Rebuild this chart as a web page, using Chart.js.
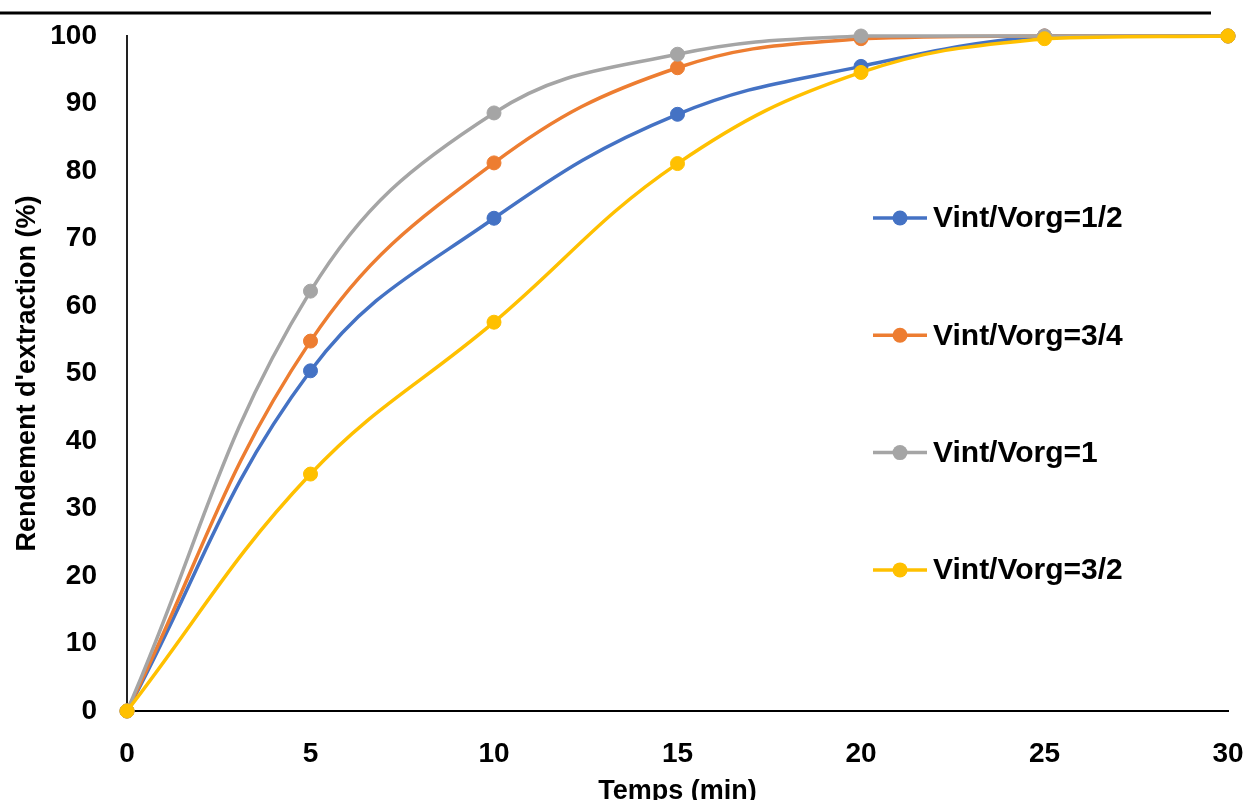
<!DOCTYPE html>
<html>
<head>
<meta charset="utf-8">
<script src="https://cdn.jsdelivr.net/npm/chart.js@4"></script>
<style>
  html, body { margin: 0; padding: 0; background: #fff; }
  canvas { display: block; }
</style>
</head>
<body>
<canvas id="chart" width="1247" height="800"></canvas>
<script>
// ── DATA ──────────────────────────────────────────────────────────────────
const timeValues = [0, 5, 10, 15, 20, 25, 30];
const seriesNames = ['Vint/Vorg=1/2', 'Vint/Vorg=3/4', 'Vint/Vorg=1', 'Vint/Vorg=3/2'];
const ratioHalf = [0, 50.4, 73.0, 88.4, 95.5, 100, 100];
const ratioThreeQuarter = [0, 54.8, 81.2, 95.3, 99.6, 100, 100];
const ratioOne = [0, 62.2, 88.6, 97.3, 100, 100, 100];
const ratioThreeHalf = [0, 35.1, 57.6, 81.1, 94.6, 99.6, 100];
const xTicks = [0, 5, 10, 15, 20, 25, 30];
const yTicks = [0, 10, 20, 30, 40, 50, 60, 70, 80, 90, 100];

const colors = ['#4472C4', '#ED7D31', '#A5A5A5', '#FFC000'];
const FONT = "'Liberation Sans', Arial, sans-serif";

function toPoints(values) {
  return values.map((v, i) => ({ x: timeValues[i], y: v }));
}

function makeDataset(label, values, color, order) {
  return {
    label,
    data: toPoints(values),
    borderColor: color,
    backgroundColor: color,
    pointBackgroundColor: color,
    pointBorderColor: color,
    borderWidth: 3.5,
    pointRadius: 7,
    pointBorderWidth: 1,
    tension: 0.4,
    fill: false,
    clip: false,
    order
  };
}

// frame line across the top (cropped chart border)
const topLine = {
  id: 'topLine',
  beforeDraw(chart) {
    const ctx = chart.ctx;
    ctx.save();
    ctx.strokeStyle = '#000';
    ctx.lineWidth = 3;
    ctx.beginPath();
    ctx.moveTo(0, 13);
    ctx.lineTo(1211, 13);
    ctx.stroke();
    ctx.restore();
  }
};

// legend sitting inside the plot, spaced like the original
const insideLegend = {
  id: 'insideLegend',
  afterDatasetsDraw(chart) {
    const ctx = chart.ctx;
    const x0 = 873, x1 = 927, textX = 933;
    const top = 218, step = 117.3;
    ctx.save();
    seriesNames.forEach((name, i) => {
      const y = top + i * step;
      ctx.strokeStyle = colors[i];
      ctx.lineWidth = 3.5;
      ctx.beginPath();
      ctx.moveTo(x0, y);
      ctx.lineTo(x1, y);
      ctx.stroke();
      ctx.fillStyle = colors[i];
      ctx.beginPath();
      ctx.arc((x0 + x1) / 2, y, 7.5, 0, Math.PI * 2);
      ctx.fill();
      ctx.fillStyle = '#000';
      ctx.font = `bold 30px ${FONT}`;
      ctx.textAlign = 'left';
      ctx.textBaseline = 'middle';
      ctx.fillText(name, textX, y + 1);
    });
    ctx.restore();
  }
};

new Chart(document.getElementById('chart'), {
  type: 'line',
  data: {
    datasets: [
      makeDataset(seriesNames[0], ratioHalf, colors[0], 3),
      makeDataset(seriesNames[1], ratioThreeQuarter, colors[1], 2),
      makeDataset(seriesNames[2], ratioOne, colors[2], 1),
      makeDataset(seriesNames[3], ratioThreeHalf, colors[3], 0)
    ]
  },
  options: {
    responsive: false,
    animation: false,
    layout: { padding: { top: 36, right: 19, left: 0, bottom: 0 } },
    plugins: {
      legend: { display: false },
      tooltip: { enabled: false }
    },
    scales: {
      x: {
        type: 'linear',
        min: 0,
        max: 30,
        afterBuildTicks: scale => { scale.ticks = xTicks.map(v => ({ value: v })); },
        afterFit: scale => {
          scale.height = 89;
          scale.paddingLeft = 0;
          scale.paddingRight = 0;
        },
        grid: { display: false, drawTicks: false },
        border: { display: true, color: '#000', width: 2 },
        ticks: {
          color: '#000',
          padding: 26,
          maxRotation: 0,
          font: { family: FONT, size: 28, weight: 'bold' }
        },
        title: {
          display: true,
          text: 'Temps (min)',
          color: '#000',
          padding: 0,
          font: { family: FONT, size: 27, weight: 'bold', lineHeight: 0.6 }
        }
      },
      y: {
        min: 0,
        max: 100,
        afterBuildTicks: scale => { scale.ticks = yTicks.map(v => ({ value: v })); },
        afterFit: scale => {
          scale.width = 127;
          scale.paddingTop = 0;
          scale.paddingBottom = 0;
        },
        grid: { display: false, drawTicks: false },
        border: { display: true, color: '#222', width: 2 },
        ticks: {
          color: '#000',
          padding: 30,
          font: { family: FONT, size: 28, weight: 'bold' }
        },
        title: {
          display: true,
          text: "Rendement d'extraction (%)",
          color: '#000',
          padding: { top: 11, bottom: 0 },
          font: { family: FONT, size: 27, weight: 'bold' }
        }
      }
    }
  },
  plugins: [topLine, insideLegend]
});
</script>
</body>
</html>
